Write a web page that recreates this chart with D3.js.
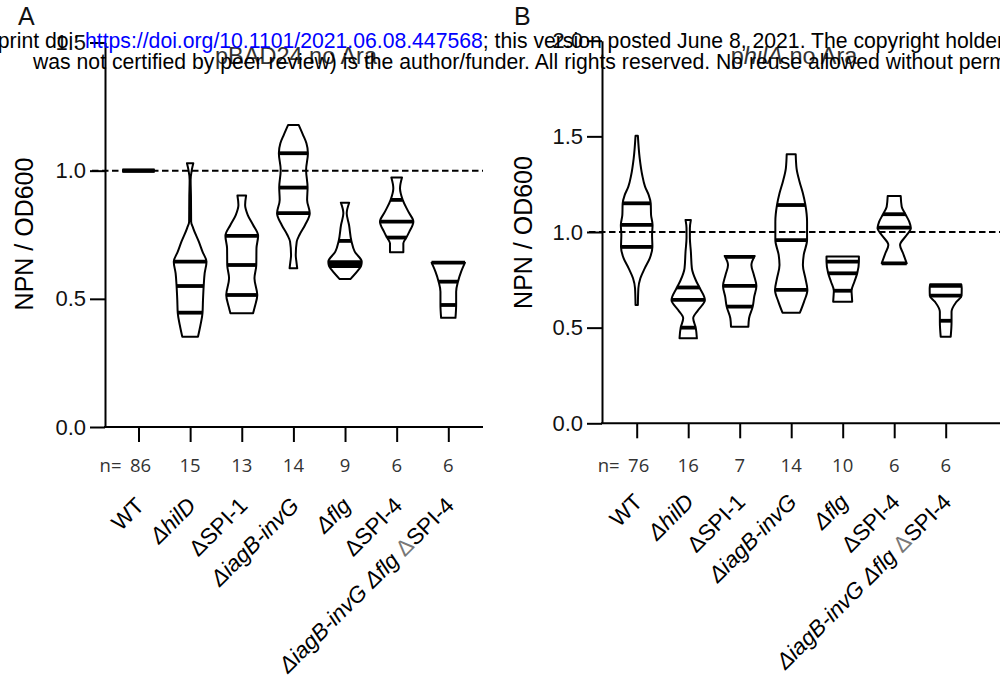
<!DOCTYPE html>
<html><head><meta charset="utf-8">
<script src="https://cdn.jsdelivr.net/npm/d3@7"></script>
<style>body{margin:0;background:#fff}svg{display:block}</style>
</head><body><svg id="c" width="1000" height="686"></svg>
<script>
// ---------------- DATA ----------------
const categories = ["WT","ΔhilD","ΔSPI-1","ΔiagB-invG","Δflg","ΔSPI-4","ΔiagB-invG Δflg ΔSPI-4"];
const nA = [86,15,13,14,9,6,6];
const nB = [76,16,7,14,10,6,6];
const yTicksA = [0,0.5,1.0,1.5];
const yTicksB = [0,0.5,1.0,1.5,2.0];
const refLine = 1.0;
// violin outlines: [value, relative density]
const outlineA = [
  [[1.0,0.96],[1.0,0.96]],
  [[1.029,0.19],[1.003,0.10],[0.964,0.03],[0.90,0.05],[0.801,0.06],[0.776,0.18],[0.723,0.52],[0.684,0.74],[0.645,0.98],[0.600,0.87],[0.548,0.81],[0.496,0.77],[0.444,0.74],[0.398,0.62],[0.352,0.47]],
  [[0.903,0.26],[0.866,0.20],[0.827,0.36],[0.788,0.68],[0.746,0.98],[0.697,0.88],[0.632,0.87],[0.580,0.76],[0.515,0.93],[0.469,0.78],[0.444,0.68]],
  [[1.178,0.32],[1.139,0.58],[1.107,0.78],[1.068,0.87],[1.003,0.76],[0.934,0.85],[0.886,0.82],[0.834,0.98],[0.788,0.70],[0.749,0.36],[0.723,0.20],[0.671,0.14],[0.645,0.18],[0.619,0.23]],
  [[0.875,0.25],[0.834,0.10],[0.788,0.24],[0.726,0.38],[0.684,0.58],[0.645,1.0],[0.628,0.96],[0.613,0.80],[0.577,0.32]],
  [[0.973,0.32],[0.931,0.20],[0.886,0.36],[0.840,0.70],[0.801,1.0],[0.762,0.76],[0.739,0.58],[0.717,0.40],[0.682,0.40]],
  [[0.641,1.0],[0.606,0.77],[0.567,0.58],[0.528,0.47],[0.476,0.47],[0.426,0.43]]
];
const quartA = [[1,1,1],[0.446,0.550,0.645],[0.515,0.632,0.746],[0.834,0.934,1.068],[0.628,0.643,0.726],[0.739,0.801,0.886],[0.476,0.567,0.641]];
const outlineB = [
  [[1.503,0.07],[1.385,0.18],[1.298,0.33],[1.237,0.50],[1.193,0.72],[1.150,0.84],[1.089,0.86],[1.037,0.95],[0.984,0.92],[0.922,0.94],[0.862,0.78],[0.810,0.48],[0.758,0.22],[0.706,0.10],[0.618,0.07]],
  [[1.063,0.16],[1.019,0.10],[0.97,0.10],[0.897,0.16],[0.810,0.22],[0.749,0.45],[0.706,0.70],[0.645,1.0],[0.592,0.60],[0.549,0.30],[0.500,0.45],[0.444,0.52]],
  [[0.875,0.90],[0.828,0.70],[0.775,0.85],[0.718,1.0],[0.662,0.87],[0.610,0.78],[0.549,0.56],[0.505,0.52]],
  [[1.406,0.27],[1.333,0.32],[1.263,0.50],[1.202,0.70],[1.141,0.85],[1.054,0.95],[0.958,0.95],[0.880,0.75],[0.828,0.70],[0.758,0.85],[0.697,0.97],[0.636,0.77],[0.578,0.52]],
  [[0.872,0.97],[0.845,0.97],[0.784,0.87],[0.740,0.70],[0.693,0.53],[0.662,0.55],[0.636,0.57]],
  [[1.188,0.39],[1.132,0.45],[1.093,0.67],[1.054,0.90],[1.019,1.0],[0.984,0.75],[0.932,0.35],[0.889,0.53],[0.836,0.75]],
  [[0.727,0.93],[0.706,0.96],[0.667,0.95],[0.636,0.65],[0.583,0.35],[0.531,0.35],[0.453,0.30]]
];
const quartB = [[0.922,1.037,1.150],[0.500,0.645,0.710],[0.610,0.718,0.870],[0.697,0.958,1.141],[0.693,0.784,0.845],[0.836,1.023,1.093],[0.536,0.667,0.718]];

// ---------------- LAYOUT ----------------
const F = "'Liberation Sans', Arial, Helvetica, sans-serif";
const svg = d3.select("#c");
svg.append("rect").attr("width",1000).attr("height",686).attr("fill","#fff");

const panels = [
  {letter:"A", lx:18, title:[["pBAD24 no Ara",false]], tx:296, ymax:1.5, ticks:yTicksA,
   axX0:105, axX1:483, axY:427, yTop:42.5, p0:138.5, p1:448.3, outline:outlineA, quart:quartA, n:nA, ytx:33, yty:234},
  {letter:"B", lx:514, title:[["p",false],["hilA",true],[" no Ara",false]], tx:794, ymax:2.0, ticks:yTicksB,
   axX0:602, axX1:1000, axY:423.3, yTop:40.7, p0:636.7, p1:945.7, outline:outlineB, quart:quartB, n:nB, ytx:532, yty:232.5}
];

const wScale = d3.scaleLinear().domain([0,1]).range([0,16.7]);

function richLabel(sel, str){
  const parts = str.split(/(Δ(?:hilD|iagB-invG|flg))/).filter(s=>s.length);
  parts.forEach(p=>{
    const ital = /^Δ(hilD|iagB-invG|flg)$/.test(p);
    if(!ital && p.indexOf("Δ")>=0 && str.indexOf(" ")>=0){
      const i = p.indexOf("Δ");
      if(i>0) sel.append("tspan").text(p.slice(0,i));
      sel.append("tspan").attr("fill","#777").text("Δ");
      sel.append("tspan").text(p.slice(i+1));
    } else {
      sel.append("tspan").attr("font-style", ital?"italic":"normal").text(p);
    }
  });
}

panels.forEach(P=>{
  const g = svg.append("g");
  const y = d3.scaleLinear().domain([0,P.ymax]).range([P.axY,P.yTop]);
  const x = d3.scalePoint().domain(categories).range([P.p0,P.p1]);

  // reference dashed line
  g.append("line").attr("x1",P.axX0-13).attr("x2",P.axX1).attr("y1",y(refLine)).attr("y2",y(refLine))
    .attr("stroke","#000").attr("stroke-width",2).attr("stroke-dasharray","6.5,3.5");

  // violins
  categories.forEach((c,i)=>{
    const pts = P.outline[i];
    const cx = x(c);
    const area = d3.area().curve(d3.curveMonotoneY)
      .y(d=>y(d[0])).x0(d=>cx-wScale(d[1])).x1(d=>cx+wScale(d[1]));
    if(pts[0][0]!==pts[pts.length-1][0]){
      g.append("path").attr("d",area(pts)).attr("fill","none").attr("stroke","#000").attr("stroke-width",2).attr("stroke-linejoin","round");
    }
    const wAt = d3.scaleLinear().domain(pts.map(d=>d[0])).range(pts.map(d=>d[1])).clamp(true);
    P.quart[i].forEach(q=>{
      const w = pts[0][0]===pts[pts.length-1][0] ? wScale(pts[0][1]) : wScale(wAt(q));
      g.append("line").attr("x1",cx-w).attr("x2",cx+w).attr("y1",y(q)).attr("y2",y(q))
        .attr("stroke","#000").attr("stroke-width",3.8);
    });
  });

  // y axis
  const ya = g.append("g").attr("transform",`translate(${P.axX0},0)`)
    .call(d3.axisLeft(y).tickValues(P.ticks).tickFormat(d3.format(".1f")).tickSize(15).tickSizeOuter(0).tickPadding(4));
  ya.selectAll("path,line").attr("stroke","#000").attr("stroke-width",2);
  ya.selectAll("text").attr("font-family",F).attr("font-size",22).attr("fill","#111");

  // x axis
  g.append("line").attr("x1",P.axX0-1).attr("x2",P.axX1).attr("y1",P.axY).attr("y2",P.axY).attr("stroke","#000").attr("stroke-width",2);
  const xa = g.append("g").attr("transform",`translate(0,${P.axY})`)
    .call(d3.axisBottom(x).tickSize(15).tickFormat(""));
  xa.select(".domain").remove();
  xa.selectAll("line").attr("stroke","#000").attr("stroke-width",2);

  // n row
  g.append("text").attr("x",P.p0-17).attr("y",472).attr("text-anchor","end")
    .attr("font-family","'Open Sans', 'Noto Sans', sans-serif").attr("font-size",18.5).attr("fill","#333").text("n=");
  categories.forEach((c,i)=>{
    g.append("text").attr("x",x(c)+(i===0?2:0)).attr("y",472).attr("text-anchor","middle")
      .attr("font-family","'Open Sans', 'Noto Sans', sans-serif").attr("font-size",18.5).attr("fill","#333").text(P.n[i]);
  });

  // category labels
  categories.forEach(c=>{
    const t = g.append("text").attr("transform",`translate(${x(c)+7},${P.axY+80}) rotate(-45)`)
      .attr("text-anchor","end").attr("font-family",F).attr("font-size",22.5).attr("fill","#000");
    richLabel(t,c);
  });

  // y title
  g.append("text").attr("transform",`translate(${P.ytx},${P.yty}) rotate(-90)`).attr("text-anchor","middle")
    .attr("font-family",F).attr("font-size",25).attr("fill","#000").text("NPN / OD600");

  // panel title
  const tt = g.append("text").attr("x",P.tx).attr("y",64).attr("text-anchor","middle")
    .attr("font-family",F).attr("font-size",23.5).attr("fill","#333");
  P.title.forEach(s=>tt.append("tspan").attr("font-style",s[1]?"italic":"normal").text(s[0]));

  // panel letter
  svg.append("text").attr("x",P.lx).attr("y",25).attr("font-family",F).attr("font-size",25).attr("fill","#111").text(P.letter);
});

// watermark
const wm = svg.append("g").attr("font-family",F).attr("font-size",21.2);
const l1 = wm.append("text").attr("y",48);
const pre = l1.append("tspan").attr("fill","#000").text("bioRxiv preprint doi: ");
l1.append("tspan").attr("fill","#0000ff").text("https://doi.org/10.1101/2021.06.08.447568");
l1.append("tspan").attr("fill","#000").text("; this version posted June 8, 2021. The copyright holder for this preprint (which");
l1.attr("x", 85 - pre.node().getComputedTextLength());
wm.append("text").attr("x",33).attr("y",68.5).attr("fill","#000")
  .text("was not certified by peer review) is the author/funder. All rights reserved. No reuse allowed without permission.");
</script></body></html>
